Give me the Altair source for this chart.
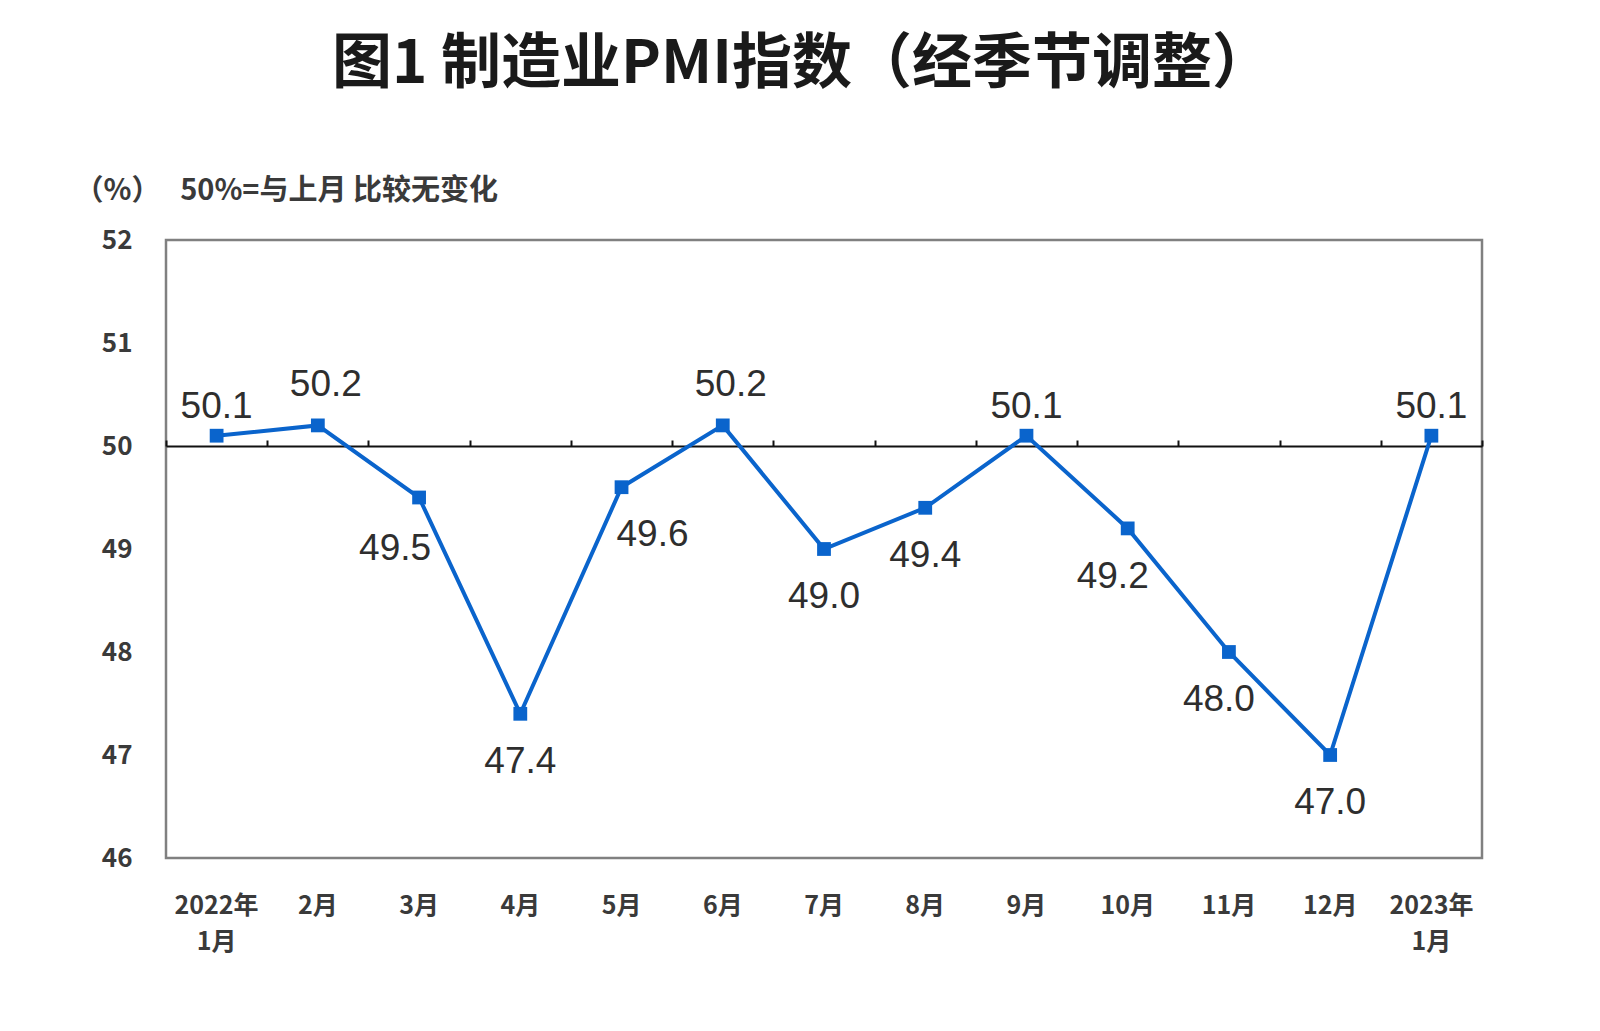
import altair as alt
import pandas as pd

months = ["2022年\n1月", "2月", "3月", "4月", "5月", "6月", "7月", "8月",
          "9月", "10月", "11月", "12月", "2023年\n1月"]
pmi = [50.1, 50.2, 49.5, 47.4, 49.6, 50.2, 49.0, 49.4, 50.1, 49.2, 48.0, 47.0, 50.1]
# label placement style per point
placement = ["above", "above_r", "below_l", "below", "below_r", "above_r", "below",
             "below", "above", "below_l2", "below_l3", "below", "above"]
y_ticks = [46, 47, 48, 49, 50, 51, 52]

df = pd.DataFrame({"month": months, "pmi": pmi, "place": placement,
                   "label": [f"{v:.1f}" for v in pmi]})

FONT = "Noto Sans CJK SC"
BLUE = "#0a64cc"
NB = "\u00a0"

x_scale = alt.Scale(paddingInner=0, paddingOuter=0)
y_scale = alt.Scale(domain=[46, 52], nice=False, zero=False)

base = alt.Chart(df)

line = base.mark_line(color=BLUE, strokeWidth=4).encode(
    x=alt.X("month:N", sort=months, scale=x_scale,
            axis=alt.Axis(title=None, orient="bottom", domain=False, ticks=False,
                          labelAngle=0, labelFont=FONT, labelFontSize=25,
                          labelFontWeight="bold",
                          labelColor="#3a3a3a", labelPadding=35, labelLineHeight=36,
                          labelExpr="split(datum.label, '\\n')", grid=False)),
    y=alt.Y("pmi:Q", scale=y_scale,
            axis=alt.Axis(values=y_ticks, format="d", domain=False, ticks=False, grid=False,
                          labelFont=FONT, labelFontSize=26, labelFontWeight="bold",
                          labelColor="#3a3a3a", labelPadding=34,
                          title="（%）" + NB * 3 + "50%=与上月" + NB + "比较无变化",
                          titleAngle=0,
                          titleAlign="left", titleBaseline="middle",
                          titleX=-92, titleY=-50, titleFont=FONT, titleFontSize=29,
                          titleFontWeight="bold", titleColor="#3a3a3a")),
)

# 50% reference axis with upward ticks at category boundaries
ref_axis = base.mark_point(opacity=0).encode(
    x=alt.X("month:N", sort=months, scale=x_scale,
            axis=alt.Axis(title=None, orient="top", offset=-206, labels=False,
                          domainColor="#111111", domainWidth=2, tickColor="#111111",
                          tickWidth=2, tickSize=6, tickBand="extent", grid=False)),
    y=alt.Y("pmi:Q", scale=y_scale, axis=None),
)

points = base.mark_square(color=BLUE, size=190, opacity=1).encode(
    x=alt.X("month:N", sort=months, axis=None),
    y=alt.Y("pmi:Q", scale=y_scale, axis=None))

offsets = {
    "above": (0, -29),
    "above_r": (8, -40),
    "below": (0, 48),
    "below_l": (-24, 51),
    "below_r": (31, 48),
    "below_l2": (-15, 49),
    "below_l3": (-10, 48),
}
text_layers = []
for key, (dx, dy) in offsets.items():
    text_layers.append(
        base.transform_filter(alt.datum.place == key).mark_text(
            font="Liberation Sans", fontSize=37, color="#2e2e2e", dx=dx, dy=dy,
            baseline="middle", align="center").encode(
            x=alt.X("month:N", sort=months, axis=None),
            y=alt.Y("pmi:Q", scale=y_scale, axis=None),
            text="label:N")
    )

chart = alt.layer(ref_axis, line, points, *text_layers).resolve_axis(
    x="independent", y="independent").properties(
    width=1316, height=618,
    padding={"left": 158, "top": 232, "right": 110, "bottom": 150},
    autosize=alt.AutoSizeParams(type="none"),
    title=alt.TitleParams("图1 制造业PMI指数（经季节调整）", font=FONT, fontSize=60,
                          fontWeight="bold", color="#1a1a1a", anchor="middle",
                          dx=-22, offset=80),
).configure_view(stroke="#808080", strokeWidth=2.5)

chart.save("out.html", embed_options={"renderer": "svg", "actions": False})
